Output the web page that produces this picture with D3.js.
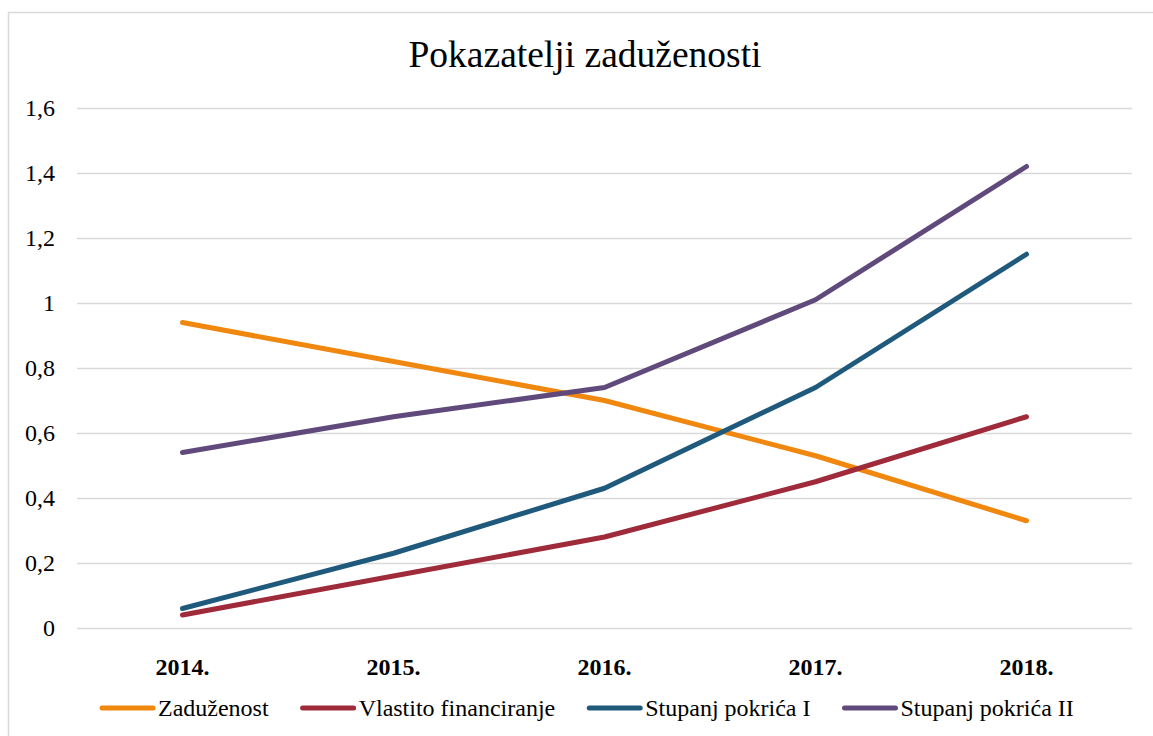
<!DOCTYPE html>
<html>
<head>
<meta charset="utf-8">
<script src="https://cdn.jsdelivr.net/npm/d3@7"></script>
<style>
  body { margin: 0; background: #fff; }
  svg { font-family: "Liberation Serif", "Times New Roman", serif; }
</style>
</head>
<body>
<div id="chart"></div>
<script>
var w = 1153;
var h = 736;

var years = ["2014.", "2015.", "2016.", "2017.", "2018."];
var zaduzenost = [0.94, 0.82, 0.70, 0.53, 0.33];
var vlastito = [0.04, 0.16, 0.28, 0.45, 0.65];
var pokrice1 = [0.06, 0.23, 0.43, 0.74, 1.15];
var pokrice2 = [0.54, 0.65, 0.74, 1.01, 1.42];
var yTicks = [0, 0.2, 0.4, 0.6, 0.8, 1, 1.2, 1.4, 1.6];

var series = [
  {name: "Zaduženost", values: zaduzenost, color: "#f0870f"},
  {name: "Vlastito financiranje", values: vlastito, color: "#9e2a3a"},
  {name: "Stupanj pokrića I", values: pokrice1, color: "#1f5a7d"},
  {name: "Stupanj pokrića II", values: pokrice2, color: "#5f4a7b"}
];

var plotLeft = 77, plotRight = 1132, plotTop = 108, plotBottom = 628;

var x = d3.scaleBand()
  .domain(years)
  .range([plotLeft, plotRight]);

var y = d3.scaleLinear()
  .domain([0, 1.6])
  .range([plotBottom, plotTop]);

var svg = d3.select("#chart")
  .append("svg")
  .attr("width", w)
  .attr("height", h);

// outer frame
svg.append("rect")
  .attr("x", 8.5)
  .attr("y", 12.5)
  .attr("width", 1160)
  .attr("height", 740)
  .attr("fill", "#fff")
  .attr("stroke", "#d9d9d9")
  .attr("stroke-width", 1.5);

// title
svg.append("text")
  .attr("x", 585)
  .attr("y", 67)
  .attr("text-anchor", "middle")
  .attr("font-size", 37.5)
  .attr("fill", "#000")
  .text("Pokazatelji zaduženosti");

// gridlines + y labels
var yAxis = d3.axisLeft(y)
  .tickValues(yTicks)
  .tickSize(-(plotRight - plotLeft))
  .tickPadding(22)
  .tickFormat(function(d) { return String(d).replace(".", ","); });

var gy = svg.append("g")
  .attr("transform", "translate(" + plotLeft + ",0)")
  .call(yAxis);
gy.select(".domain").remove();
gy.selectAll(".tick line")
  .attr("stroke", "#d9d9d9")
  .attr("stroke-width", 1.5);
gy.selectAll(".tick text")
  .attr("font-size", 24)
  .attr("fill", "#000")
  .attr("font-family", "Liberation Serif, serif");

// x labels
var xAxis = d3.axisBottom(x).tickSize(0).tickPadding(30);
var gx = svg.append("g")
  .attr("transform", "translate(0," + plotBottom + ")")
  .call(xAxis);
gx.select(".domain").remove();
gx.selectAll(".tick text")
  .attr("font-size", 24)
  .attr("font-weight", "bold")
  .attr("fill", "#000")
  .attr("font-family", "Liberation Serif, serif");

// lines
var line = d3.line()
  .x(function(d, i) { return x(years[i]) + x.bandwidth() / 2; })
  .y(function(d) { return y(d); });

svg.selectAll("path.series")
  .data(series)
  .enter()
  .append("path")
  .attr("class", "series")
  .attr("d", function(d) { return line(d.values); })
  .attr("fill", "none")
  .attr("stroke", function(d) { return d.color; })
  .attr("stroke-width", 5)
  .attr("stroke-linecap", "round")
  .attr("stroke-linejoin", "round");

// legend
var lx = 100;
var ly = 708;
series.forEach(function(s) {
  svg.append("line")
    .attr("x1", lx + 2)
    .attr("x2", lx + 53)
    .attr("y1", ly)
    .attr("y2", ly)
    .attr("stroke", s.color)
    .attr("stroke-width", 5)
    .attr("stroke-linecap", "round");
  var t = svg.append("text")
    .attr("x", lx + 58)
    .attr("y", ly + 8)
    .attr("font-size", 24)
    .attr("fill", "#000")
    .text(s.name);
  lx = lx + 58 + t.node().getComputedTextLength() + 32;
});
</script>
</body>
</html>
